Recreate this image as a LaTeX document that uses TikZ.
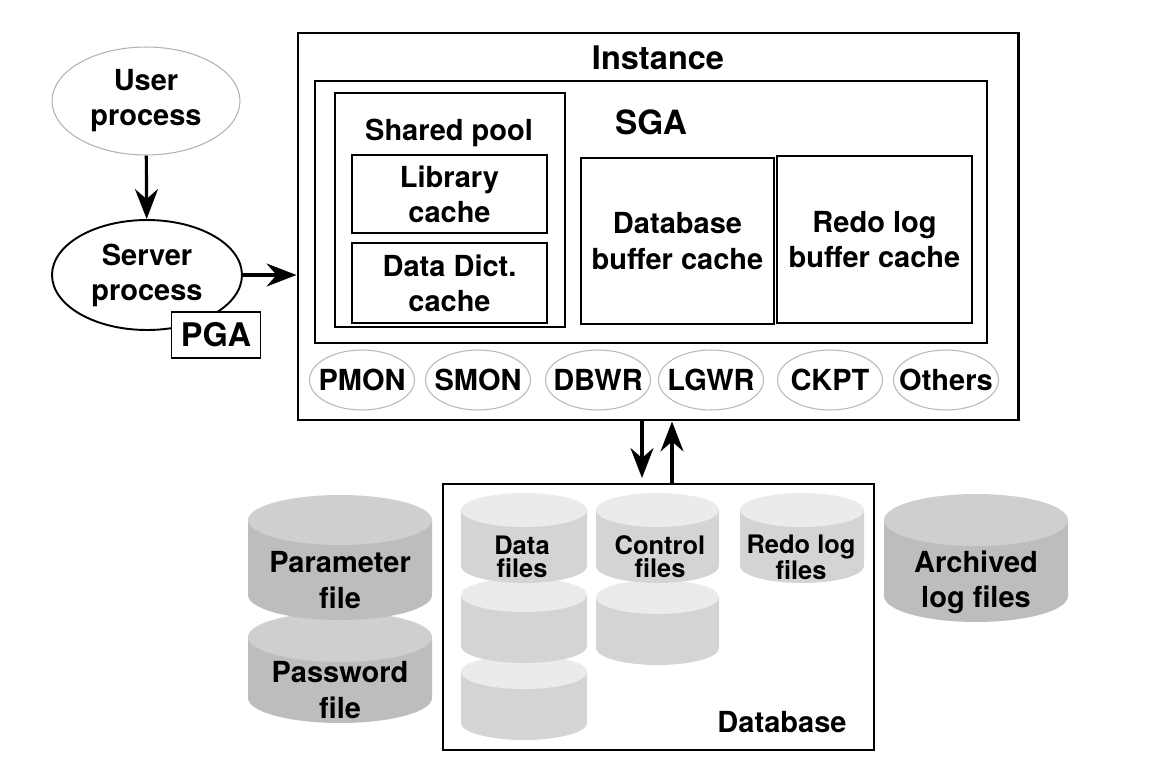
\documentclass[tikz,border=0pt]{standalone}
\usepackage{fontspec}
\setmainfont{TeX Gyre Heros}
\usepackage{tikz}
\usetikzlibrary{arrows.meta,shapes.geometric,fit}

\definecolor{darkside}{HTML}{BDBDBD}
\definecolor{darktop}{HTML}{CFCFCF}
\definecolor{liteside}{HTML}{D4D4D4}
\definecolor{litetop}{HTML}{EBEBEB}

% disk: left x, right x, top y, bottom y, end radius, top colour, side colour
\newcommand{\disk}[7]{%
	\fill[#7] (#1,#3) -- (#1,#4) arc[start angle=180, end angle=0, x radius={(#2-#1)/2}, y radius=#5] -- (#2,#3) -- cycle;
	\fill[#6] ({(#1+#2)/2},#3) ellipse [x radius={(#2-#1)/2}, y radius=#5];
}

\begin{document}
\begin{tikzpicture}[x=0.02cm, y=-0.02cm,
		font=\fontsize{16.5}{20}\selectfont\bfseries,
		box/.style={draw, inner sep=0pt},
		txt/.style={align=center},
		proc/.style={ellipse, draw=gray!55, line width=0.6pt, minimum width=2.1cm, minimum height=1.2cm, inner sep=0pt},
		arr/.style={-{Stealth[length=6mm, width=4.6mm, inset=2mm]}, line width=1.8pt},
		small/.style={font=\fontsize{14.5}{13}\selectfont\bfseries, align=center}]
		\useasboundingbox (0,0) rectangle (1154,768);

		% client side
		\node[ellipse, draw=gray!60, line width=0.6pt, minimum width=3.76cm, minimum height=2.16cm, align=center] (usr) at (146,101) {User\\process};
		\node[ellipse, draw, line width=1.1pt, minimum width=3.8cm, minimum height=2.2cm, align=center] (srv) at (147,275) {Server\\process};
		\node[box, fill=white, line width=1pt, minimum width=1.78cm, minimum height=0.92cm, font=\fontsize{18.5}{22}\selectfont\bfseries] (pga) at (216,335) {PGA};

		% instance
		\node[box, line width=1.7pt, fit={(298,33) (1018,420)}] (inst) {};
		\node[font=\fontsize{18.5}{22}\selectfont\bfseries] (instlbl) at (658,58) {Instance};
		\node[box, line width=1.2pt, fit={(315,81) (987,343)}] (sga) {};
		\node[font=\fontsize{19}{22}\selectfont\bfseries] (sgalbl) at (651,122) {SGA};
		\node[box, line width=0.9pt, fit={(335,93) (565,327)}] (pool) {};
		\node (poollbl) at (449,133) {Shared pool};
		\node[box, line width=1.1pt, fit={(352,155) (547,233)}] (lib) {};
		\node[txt] (libtxt) at (lib.center) {Library\\cache};
		\node[box, line width=1.1pt, fit={(352,243) (547,323)}] (dict) {};
		\node[txt] (dicttxt) at (dict.center) {Data Dict.\\cache};
		\node[box, line width=1pt, fit={(581,158) (774,324)}] (dbbuf) {};
		\node[txt] (dbbuftxt) at (dbbuf.center) {Database\\buffer cache};
		\node[box, line width=1pt, fit={(777,156) (972,323)}] (redobuf) {};
		\node[txt] (redobuftxt) at (redobuf.center) {Redo log\\buffer cache};

		\foreach \name/\x in {PMON/362, SMON/478, DBWR/598, LGWR/711, CKPT/830, Others/946}
			\node[proc, label=center:\name] (\name) at (\x,380) {};

		\draw[arr] (usr) -- (srv);
		\draw[arr] (srv.east) -- (srv.east -| inst.west);

		% database
		\node[box, line width=1.2pt, fit={(443,484) (874,750)}] (db) {};
		\node (dblbl) at (782,722) {Database};
		\coordinate (dnend) at (642,478);
		\coordinate (upx) at (672,0);
		\draw[arr] (inst.south -| dnend) -- (dnend);
		\draw[arr] (db.north -| upx) -- (inst.south -| upx);

		% files
		\disk{248}{432}{637}{698}{25}{darktop}{darkside}
		\disk{248}{432}{520}{595}{25}{darktop}{darkside}
		\disk{884}{1068}{520}{596}{26}{darktop}{darkside}
		\disk{461}{587}{672}{723}{17}{litetop}{liteside}
		\disk{461}{587}{595}{646}{17}{litetop}{liteside}
		\disk{461}{587}{510}{566}{17}{litetop}{liteside}
		\disk{596}{719}{597}{648}{17}{litetop}{liteside}
		\disk{596}{719}{510}{566}{17}{litetop}{liteside}
		\disk{740}{864}{510}{566}{17}{litetop}{liteside}

		\node[txt] (parm) at (340,580) {Parameter\\file};
		\node[txt] (pwd) at (340,690) {Password\\file};
		\node[txt] (arch) at (976,582) {Archived\\log files};
		\node[small] (datf) at (522,557) {Data\\files};
		\node[small] (ctlf) at (660,557) {Control\\files};
		\node[small] (redof) at (801,557) {Redo log\\files};
	\end{tikzpicture}
\end{document}
